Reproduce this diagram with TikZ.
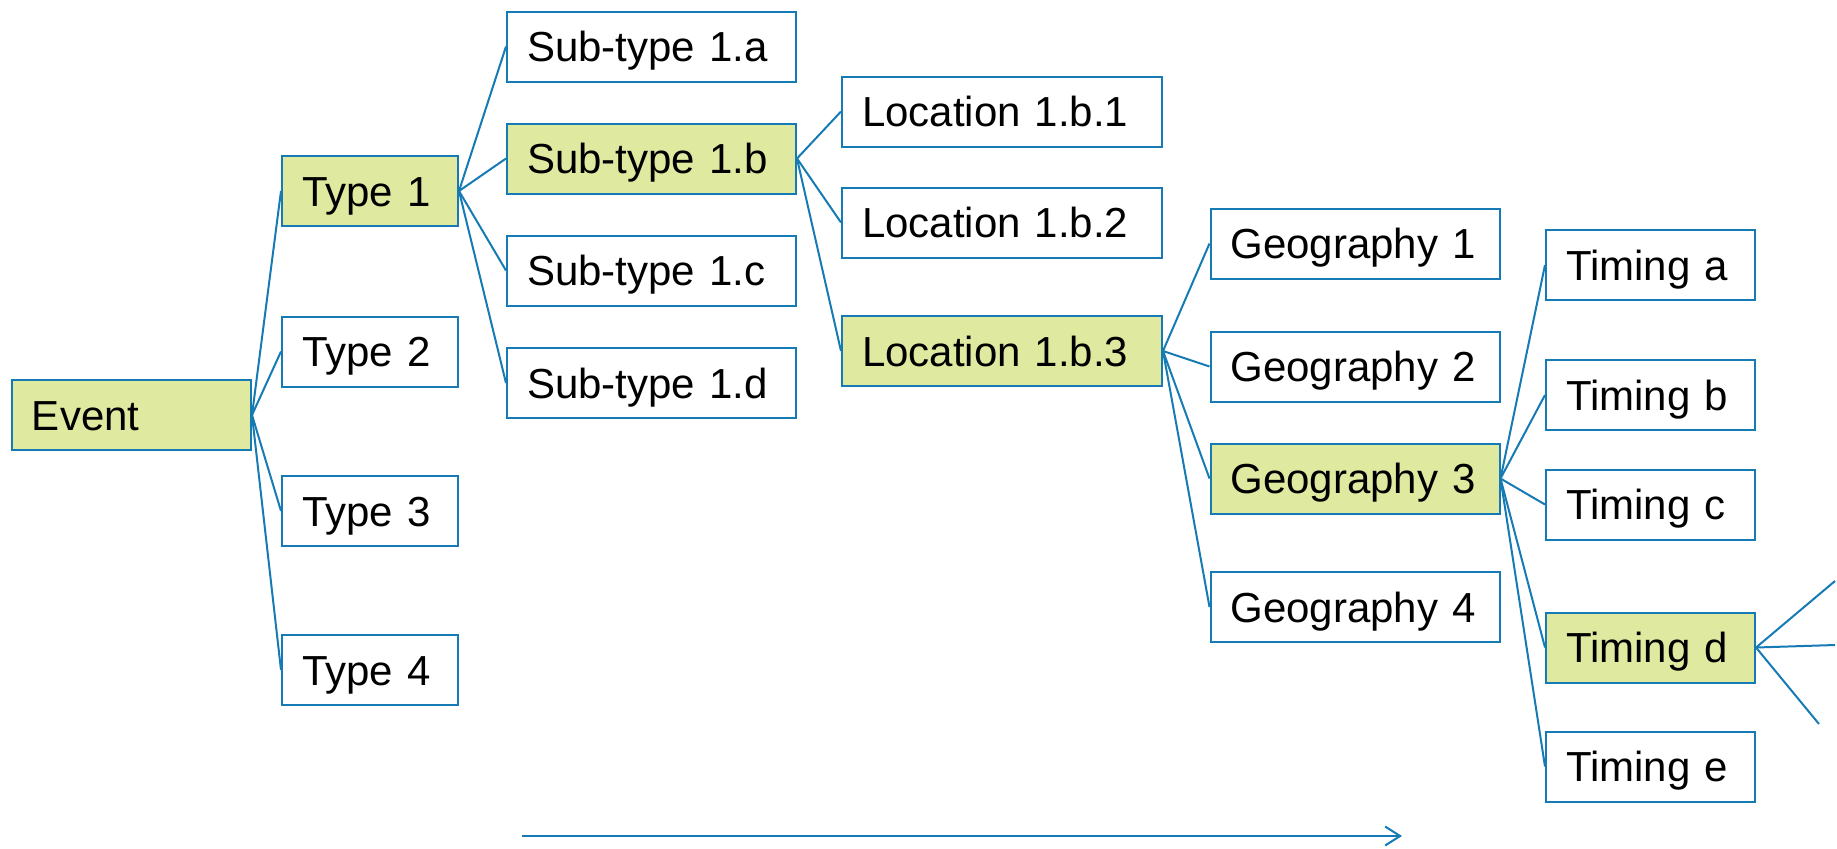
\documentclass[tikz,border=0pt]{standalone}
\usepackage{fontspec}
\setmainfont{Liberation Sans}
\usetikzlibrary{arrows.meta}

\definecolor{lineblue}{RGB}{22,122,180}
\definecolor{boxgreen}{RGB}{223,233,160}

\tikzset{
  box/.style={draw=lineblue, line width=1pt, minimum height=35pt, inner xsep=10pt,
    text height=15pt, text depth=0pt,
    align=left, font=\fontsize{21}{24}\selectfont},
  picked/.style={fill=boxgreen},
  evbox/.style={box, text width=99.5pt},
  typebox/.style={box, text width=68pt},
  subbox/.style={box, text width=124.5pt},
  locbox/.style={box, text width=140pt},
  geobox/.style={box, text width=124.5pt},
  timebox/.style={box, text width=84.5pt},
  link/.style={draw=lineblue, line width=1pt},
}

\begin{document}
\begin{tikzpicture}[x=0.5pt,y=-0.5pt]
\useasboundingbox (0,0) rectangle (1837,848);

% tree of choices
\node[evbox,picked] (ev) at (131.5,415) {Event};

\node[typebox,picked] (t1) at (370,191) {Type 1};
\node[typebox] (t2) at (370,351.5) {Type 2};
\node[typebox] (t3) at (370,511) {Type 3};
\node[typebox] (t4) at (370,670) {Type 4};

\node[subbox] (sa) at (651.5,46.5) {Sub-type 1.a};
\node[subbox,picked] (sb) at (651.5,158.5) {Sub-type 1.b};
\node[subbox] (sc) at (651.5,270.5) {Sub-type 1.c};
\node[subbox] (sd) at (651.5,383) {Sub-type 1.d};

\node[locbox] (l1) at (1002,111.5) {Location 1.b.1};
\node[locbox] (l2) at (1002,222.5) {Location 1.b.2};
\node[locbox,picked] (l3) at (1002,351) {Location 1.b.3};

\node[geobox] (g1) at (1355,243.5) {Geography 1};
\node[geobox] (g2) at (1355,366.5) {Geography 2};
\node[geobox,picked] (g3) at (1355,478.5) {Geography 3};
\node[geobox] (g4) at (1355,607) {Geography 4};

\node[timebox] (ta) at (1650.5,265) {Timing a};
\node[timebox] (tb) at (1650.5,395) {Timing b};
\node[timebox] (tc) at (1650.5,504.5) {Timing c};
\node[timebox,picked] (td) at (1650.5,647.5) {Timing d};
\node[timebox] (te) at (1650.5,766.5) {Timing e};

% connectors
\foreach \c in {t1,t2,t3,t4} \draw[link] (ev.east) -- (\c.west);
\foreach \c in {sa,sb,sc,sd} \draw[link] (t1.east) -- (\c.west);
\foreach \c in {l1,l2,l3} \draw[link] (sb.east) -- (\c.west);
\foreach \c in {g1,g2,g3,g4} \draw[link] (l3.east) -- (\c.west);
\foreach \c in {ta,tb,tc,td,te} \draw[link] (g3.east) -- (\c.west);

% open ends past Timing d
\coordinate (d1) at (1835,581);
\coordinate (d2) at (1835,645);
\coordinate (d3) at (1819,724);
\foreach \c in {d1,d2,d3} \draw[link] (td.east) -- (\c);

% direction arrow
\coordinate (arrS) at (522,836);
\coordinate (arrE) at (1402,836);
\draw[link,-{Straight Barb[length=7.5pt,width=9.5pt]}] (arrS) -- (arrE);
\end{tikzpicture}
\end{document}
